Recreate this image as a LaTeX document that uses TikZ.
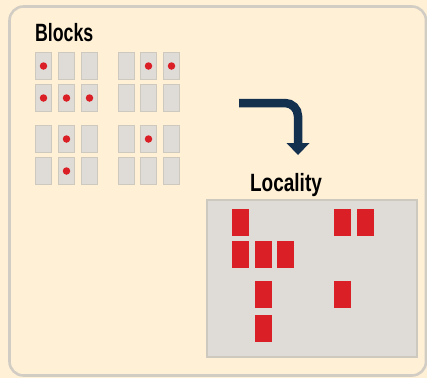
\documentclass[tikz,border=0pt]{standalone}
\usepackage{fontspec}
\setmainfont{Liberation Sans}
\definecolor{cream}{HTML}{FFF0D6}
\definecolor{framegray}{HTML}{D2CDC4}
\definecolor{cellfill}{HTML}{DFDBD6}
\definecolor{cellline}{HTML}{CEC9BF}
\definecolor{dotred}{HTML}{DA1F26}
\definecolor{navy}{HTML}{13304F}
\tikzset{
  cell/.style={draw=cellline, fill=cellfill, line width=1.6, minimum width=16, minimum height=27, inner sep=0},
  dot/.style={circle, fill=dotred, inner sep=0, minimum size=7.5},
  redbox/.style={fill=dotred, inner sep=0, minimum width=17, minimum height=27},
  title/.style={font=\bfseries\fontsize{25}{28}\selectfont, inner sep=0, anchor=base west}
}
\begin{document}
\begin{tikzpicture}[x=1pt,y=-1pt]
\useasboundingbox (0,0) rectangle (427,378);
\fill[cream] (0,0) rectangle (427,378);
\draw[framegray, line width=2.6, rounded corners=14] (9.5,6.5) rectangle (426,375.5);
% Blocks title
\node[title, xscale=0.71] (blocks) at (35,41) {Blocks};
% cells
\foreach \c/\x in {1/43.5,2/66.5,3/89.5,4/126.5,5/148.5,6/171.5}{
  \foreach \r/\y in {1/66,2/98,3/139,4/171}{
    \node[cell] (c\c\r) at (\x,\y) {};
  }
}
% dots
\foreach \n in {c11,c12,c22,c32,c51,c61,c23,c24,c53}{
  \node[dot] (d\n) at (\n.center) {};
}
% arrow
\coordinate (a1) at (239,103);
\coordinate (a2) at (298,103);
\coordinate (a3) at (298,144);
\draw[navy, line width=8.5, rounded corners=13] (a1) -- (a2) -- (a3);
\coordinate (t1) at (286.5,143);
\coordinate (t2) at (309.5,143);
\coordinate (t3) at (298,155);
\fill[navy] (t1) -- (t2) -- (t3) -- cycle;
% Locality
\node[title, anchor=base, xscale=0.76] (loc) at (286,191) {Locality};
\node[draw=cellline, fill=cellfill, line width=2.6, minimum width=210, minimum height=157, inner sep=0] (lbox) at (312,278.5) {};
\foreach \n/\x/\y in {r1/240.5/222.5, r2/342.5/222.5, r3/365.5/222.5, r4/240.5/254.5, r5/263.5/254.5, r6/285.5/254.5, r7/263.5/294.5, r8/342.5/294.5, r9/263.5/328.5}{
  \node[redbox] (\n) at (\x,\y) {};
}
\end{tikzpicture}
\end{document}
